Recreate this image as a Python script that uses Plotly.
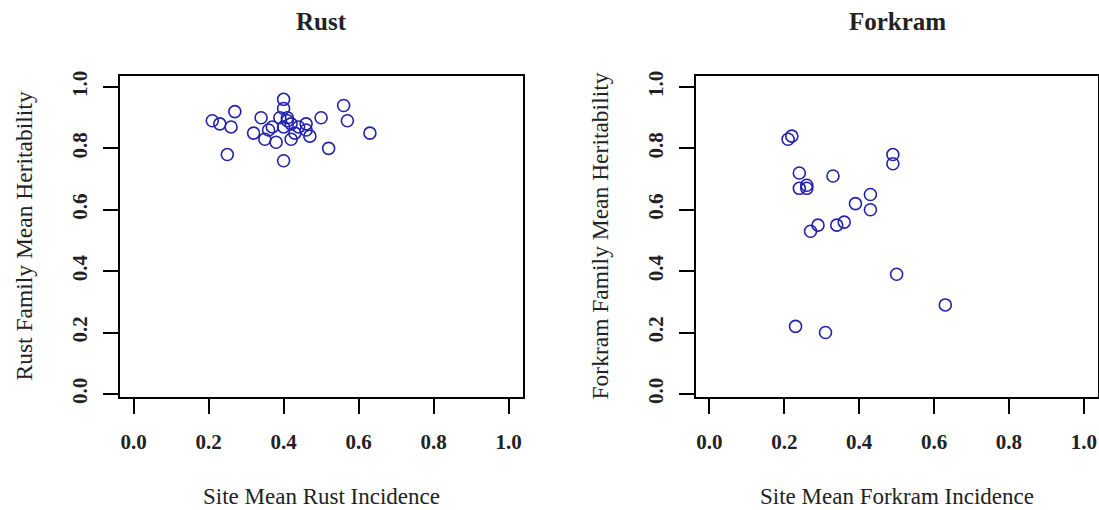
import plotly.graph_objects as go

# Site-level rust results
rust_incidence = [0.21, 0.23, 0.26, 0.27, 0.25, 0.34, 0.32, 0.35, 0.38, 0.37,
                  0.40, 0.40, 0.39, 0.41, 0.41, 0.42, 0.40, 0.42, 0.40, 0.43,
                  0.44, 0.46, 0.46, 0.47, 0.50, 0.52, 0.56, 0.57, 0.63, 0.36]
rust_heritability = [0.89, 0.88, 0.87, 0.92, 0.78, 0.90, 0.85, 0.83, 0.82, 0.87,
                     0.96, 0.93, 0.90, 0.90, 0.89, 0.88, 0.87, 0.83, 0.76, 0.85,
                     0.87, 0.88, 0.86, 0.84, 0.90, 0.80, 0.94, 0.89, 0.85, 0.86]

# Site-level forkram results
forkram_incidence = [0.21, 0.22, 0.49, 0.49, 0.24, 0.33, 0.24, 0.26, 0.26, 0.43,
                     0.43, 0.39, 0.27, 0.29, 0.34, 0.36, 0.50, 0.63, 0.23, 0.31]
forkram_heritability = [0.83, 0.84, 0.78, 0.75, 0.72, 0.71, 0.67, 0.67, 0.68, 0.65,
                        0.60, 0.62, 0.53, 0.55, 0.55, 0.56, 0.39, 0.29, 0.22, 0.20]

tick_values = [0.0, 0.2, 0.4, 0.6, 0.8, 1.0]
tick_labels = ["0.0", "0.2", "0.4", "0.6", "0.8", "1.0"]

panels = [
    dict(title="Rust", xlabel="Site Mean Rust Incidence",
         ylabel="Rust Family Mean Heritability",
         x=rust_incidence, y=rust_heritability, domain=[120 / 1099, 523 / 1099]),
    dict(title="Forkram", xlabel="Site Mean Forkram Incidence",
         ylabel="Forkram Family Mean Heritability",
         x=forkram_incidence, y=forkram_heritability, domain=[696 / 1099, 1098 / 1099]),
]

W, H = 1099, 510
ydom = [1 - 397 / H, 1 - 76 / H]
serif = "Liberation Serif"
ink = "#222222"

fig = go.Figure()
annotations = []
for i, p in enumerate(panels, start=1):
    xa = "x" if i == 1 else f"x{i}"
    ya = "y" if i == 1 else f"y{i}"
    fig.add_trace(go.Scatter(
        x=p["x"], y=p["y"], mode="markers", xaxis=xa, yaxis=ya,
        marker=dict(symbol="circle-open", size=12, color="#2222aa",
                    line=dict(width=1.6, color="#2222aa")),
        showlegend=False, hoverinfo="x+y"))
    axis_common = dict(
        showgrid=False, zeroline=False, showline=True, mirror=True,
        linecolor="black", linewidth=1.5, ticks="outside", ticklen=15,
        tickwidth=1.5, tickcolor="black", tickvals=tick_values,
        ticktext=tick_labels, automargin=False,
        tickfont=dict(family=serif, size=21, color=ink, weight="bold"))
    fig.layout[f"xaxis{i if i > 1 else ''}"] = dict(
        axis_common, domain=p["domain"], range=[-0.036, 1.038],
        anchor=ya, ticklabelstandoff=10)
    fig.layout[f"yaxis{i if i > 1 else ''}"] = dict(
        axis_common, domain=ydom, range=[-0.010, 1.036],
        anchor=xa, tickangle=-90, ticklabelstandoff=8)
    cx = (p["domain"][0] + p["domain"][1]) / 2
    annotations.append(dict(
        text=p["title"], x=cx, y=1 - 22 / H, xref="paper", yref="paper",
        showarrow=False, xanchor="center", yanchor="middle",
        font=dict(family=serif, size=25, color=ink, weight="bold")))
    annotations.append(dict(
        text=p["xlabel"], x=cx, y=1 - 496 / H, xref="paper", yref="paper",
        showarrow=False, xanchor="center", yanchor="middle",
        font=dict(family=serif, size=23, color=ink)))
    annotations.append(dict(
        text=p["ylabel"], x=p["domain"][0] - 97 / W, y=(ydom[0] + ydom[1]) / 2,
        xref="paper", yref="paper", showarrow=False, textangle=-90,
        xanchor="center", yanchor="middle",
        font=dict(family=serif, size=23.5, color=ink)))

fig.update_layout(
    width=W, height=H, margin=dict(l=0, r=0, t=0, b=0),
    paper_bgcolor="white", plot_bgcolor="white", annotations=annotations)

fig.write_html("out.html")
